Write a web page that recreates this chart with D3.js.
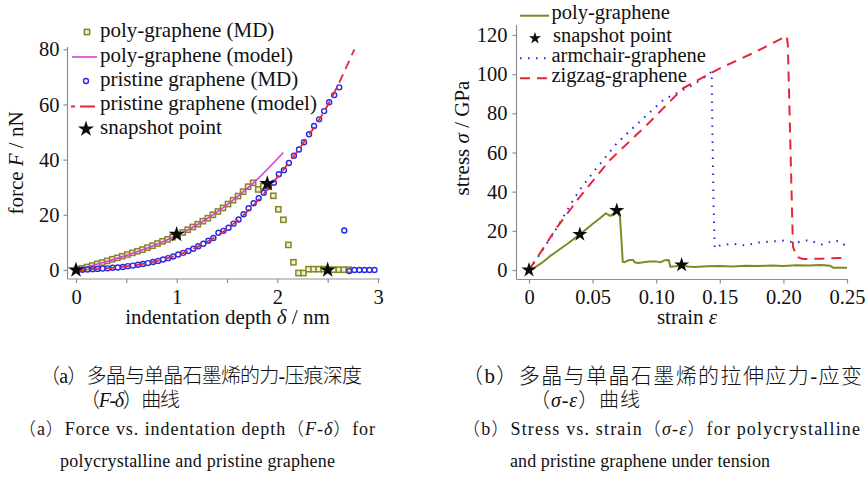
<!DOCTYPE html>
<html>
<head>
<meta charset="utf-8">
<script src="https://cdn.jsdelivr.net/npm/d3@7"></script>
<style>
  html, body { margin: 0; padding: 0; background: #fff; }
</style>
</head>
<body>
<svg id="fig" width="867" height="480"></svg>
<script>
// ---------- (a) force vs. indentation depth ----------
const polyMdDepth = [0.01,0.06,0.11,0.16,0.21,0.26,0.31,0.36,0.41,0.46,0.51,0.56,0.61,0.66,0.71,0.76,0.81,0.86,0.91,0.96,
  1.01,1.06,1.11,1.16,1.21,1.26,1.31,1.36,1.41,1.46,1.51,1.56,1.61,1.66,1.71,1.76,1.81,1.86,1.91,1.96,
  2.01,2.06,2.11,2.16,2.21,2.26,2.31,2.36,2.41,2.46,2.51,2.56,2.61,2.66,2.71];
const polyMdForce = [0.3,0.6,1.1,1.6,2.2,2.7,3.3,3.9,4.4,5.0,5.6,6.2,6.8,7.4,8.1,8.8,9.6,10.4,11.1,11.9,
  12.7,13.6,14.6,15.6,16.6,17.7,18.8,20.0,21.2,22.5,23.9,25.3,26.8,28.4,30.2,31.6,29.2,30.4,31.0,26.9,
  22.0,18.2,9.1,2.8,-1.1,-1.1,0.3,0.3,0.3,0.3,0.1,0.1,0.1,0.1,0.1];

const polyModelDepth = [0,0.25,0.5,0.75,1.0,1.25,1.5,1.75,2.06];
const polyModelForce = [0,2.5,5.3,8.5,12.5,17.4,23.6,31.1,42.6];

const pristineMdDepth = [0.015,0.065,0.115,0.165,0.215,0.265,0.315,0.365,0.415,0.465,0.515,0.565,0.615,0.665,0.715,
  0.765,0.815,0.865,0.915,0.965,1.015,1.065,1.115,1.165,1.215,1.265,1.315,1.365,1.415,1.465,
  1.515,1.565,1.615,1.665,1.715,1.765,1.815,1.865,1.915,1.965,2.015,2.065,2.115,2.165,2.215,
  2.265,2.315,2.365,2.415,2.465,2.515,2.565,2.615,2.665,2.715,2.765,2.815,2.865,2.915,2.965];
const pristineMdForce = [0.0,0.1,0.2,0.3,0.4,0.5,0.6,0.8,0.9,1.1,1.4,1.6,1.9,2.2,2.5,
  2.9,3.3,3.8,4.3,4.9,5.6,6.2,6.9,7.7,8.6,9.5,10.6,11.6,13.5,14.2,
  15.3,16.8,18.3,20.2,22.4,24.2,26.0,28.0,30.2,31.6,34.7,36.2,38.8,41.4,43.7,
  46.3,49.2,52.2,54.6,57.6,60.8,63.4,66.2,14.3,-0.4,0,0,0,0,0];

const pristineModelDepth = [0,0.25,0.5,0.75,1.0,1.25,1.5,1.75,2.0,2.25,2.5,2.765];
const pristineModelForce = [0,0.45,1.3,2.8,5.3,9.2,14.9,23.0,33.6,45.6,59.7,80];

const snapDepth = [0,1.0,1.9,2.5];
const snapForce = [0,12.9,31.3,0];

const depthTicks = [0,0.5,1,1.5,2,2.5,3];
const depthTickLabels = ["0","","1","","2","","3"];
const forceTicks = [0,20,40,60,80];

// ---------- (b) stress vs. strain ----------
const polyStrain = [0,0.005,0.01,0.016,0.022,0.03,0.04,0.05,0.056,0.0605,0.0637,0.066,0.069,0.0715,0.0727,0.0737,
  0.075,0.077,0.079,0.082,0.083,0.086,0.09,0.095,0.1,0.103,0.106,0.108,0.11,0.111,0.115,0.12,
  0.125,0.13,0.14,0.15,0.16,0.17,0.18,0.19,0.2,0.21,0.22,0.23,0.2366,0.239,0.25];
const polyStress = [0,1.5,3.6,6.8,9.6,13.3,18.2,23.5,26.6,29.0,27.6,28.6,30.3,27.2,15.0,4.2,
  3.9,4.6,5.1,5.1,4.0,3.6,3.9,4.3,4.4,3.9,4.8,5.1,5.0,1.7,1.9,2.3,
  1.8,1.5,1.9,2.1,1.8,2.2,2.0,2.3,2.1,2.4,2.3,2.6,2.2,1.2,1.2];

const armStrain = [0,0.01,0.02,0.027,0.035,0.04,0.05,0.06,0.069,0.08,0.09,0.1,0.1056,0.115,0.129,0.137,0.1436,
  0.1442,0.1452,0.146,0.15,0.16,0.17,0.18,0.19,0.2,0.21,0.22,0.23,0.24,0.245,0.25];
const armStress = [0,9.5,19.5,27.2,36.0,41.0,49.5,57.5,64.7,71.5,77.5,83.5,86.8,90.0,94.5,98.0,101.3,
  70,30,11,12.5,13.5,12.5,14,14.5,15,14,15.3,13,15,14.5,11.5];

const zigStrain = [0,0.0218,0.04,0.0637,0.0925,0.121,0.15,0.176,0.2026,0.2035,0.2075,0.2104,0.215,0.23,0.25];
const zigStress = [0,21.6,37.4,56.2,74.0,92.8,103.0,110.7,119.5,115,12,6.8,5.6,5.8,6.2];

const snapStrain = [0,0.04,0.069,0.12];
const snapStress = [0,18.2,30.4,2.6];

const strainTicks = [0,0.05,0.10,0.15,0.20,0.25];
const strainTickLabels = ["0","0.05","0.10","0.15","0.20","0.25"];
const stressTicks = [0,20,40,60,80,100,120];

// ---------- styles ----------
const SERIF = '"Liberation Serif","Times New Roman",serif';
const CAPTION = '"Liberation Serif","Noto Sans CJK SC",serif';
const C = {
  axis: "#8f8f8f",
  olive: "#85852a",
  oliveLine: "#7d8b24",
  blue: "#2a2ae6",
  red: "#e3263a",
  magenta: "#dd3ed8",
  black: "#0b0b0b"
};
const zip = (xs, ys) => xs.map((x, i) => [x, ys[i]]);
const svg = d3.select("#fig");
const star = (size) => d3.symbol().type(d3.symbolStar).size(size)();
const serifText = (sel, size) => sel.style("font-family", SERIF).style("font-size", size + "px").style("fill", "#111");

// draws a detached L-shaped frame with ticks
function frame(g, x, y, o) {
  const xa = g.append("g").attr("transform", `translate(0,${o.xAxisY})`)
    .call(d3.axisBottom(x).tickValues(o.xTicks).tickSize(4).tickPadding(6)
      .tickFormat((d, i) => o.xLabels[i]));
  const ya = g.append("g").attr("transform", `translate(${o.yAxisX},0)`)
    .call(d3.axisLeft(y).tickValues(o.yTicks).tickSize(4).tickPadding(o.yPad));
  [xa, ya].forEach(a => {
    a.select(".domain").remove();
    a.selectAll(".tick line").attr("stroke", C.axis).attr("stroke-width", 1.2);
    serifText(a.selectAll(".tick text"), 20.5);
  });
  g.append("line").attr("x1", o.yAxisX).attr("x2", o.yAxisX)
    .attr("y1", o.yTop).attr("y2", o.xAxisY).attr("stroke", C.axis).attr("stroke-width", 1.2);
  g.append("line").attr("x1", o.yAxisX).attr("x2", o.xRight)
    .attr("y1", o.xAxisY).attr("y2", o.xAxisY).attr("stroke", C.axis).attr("stroke-width", 1.2);
}

// ================= panel (a) =================
{
  const g = svg.append("g");
  const x = d3.scaleLinear().domain([0, 3]).range([76, 378]);
  const y = d3.scaleLinear().domain([0, 80]).range([270, 49.3]);
  frame(g, x, y, { xAxisY: 279, yAxisX: 67.5, yTop: 47, xRight: 380,
    xTicks: depthTicks, xLabels: depthTickLabels, yTicks: forceTicks, yPad: 4 });

  const line = d3.line().x(d => x(d[0])).y(d => y(d[1])).curve(d3.curveMonotoneX);

  g.append("g").selectAll("rect").data(zip(polyMdDepth, polyMdForce)).join("rect")
    .attr("x", d => x(d[0]) - 2.6).attr("y", d => y(d[1]) - 2.6)
    .attr("width", 5.2).attr("height", 5.2)
    .attr("fill", "#f4f2c8").attr("stroke", C.olive).attr("stroke-width", 1.5);

  g.append("path").datum(zip(polyModelDepth, polyModelForce)).attr("d", line)
    .attr("fill", "none").attr("stroke", C.magenta).attr("stroke-width", 1.6);

  g.append("g").selectAll("circle").data(zip(pristineMdDepth, pristineMdForce)).join("circle")
    .attr("cx", d => x(d[0])).attr("cy", d => y(d[1])).attr("r", 2.5)
    .attr("fill", "none").attr("stroke", C.blue).attr("stroke-width", 1.4);

  g.append("path").datum(zip(pristineModelDepth, pristineModelForce)).attr("d", line)
    .attr("fill", "none").attr("stroke", C.red).attr("stroke-width", 1.8)
    .attr("stroke-dasharray", "9,6");

  g.append("g").selectAll("path").data(zip(snapDepth, snapForce)).join("path")
    .attr("d", star(80)).attr("transform", d => `translate(${x(d[0])},${y(d[1])})`)
    .attr("fill", C.black);

  // axis titles
  g.append("text").attr("x", 227.5).attr("y", 323.5).attr("text-anchor", "middle")
    .call(serifText, 21)
    .call(t => { t.append("tspan").text("indentation depth ");
                 t.append("tspan").style("font-style", "italic").text("δ");
                 t.append("tspan").text(" / nm"); });
  g.append("text").attr("transform", "translate(22.5,163) rotate(-90)").attr("text-anchor", "middle")
    .call(serifText, 21)
    .call(t => { t.append("tspan").text("force ");
                 t.append("tspan").style("font-style", "italic").text("F");
                 t.append("tspan").text(" / nN"); });

  // legend
  const lg = g.append("g");
  const rows = [32, 57, 81, 105, 129];
  const labels = ["poly-graphene (MD)", "poly-graphene (model)", "pristine graphene (MD)",
                  "pristine graphene (model)", "snapshot point"];
  lg.append("rect").attr("x", 84.4).attr("y", rows[0] - 2.6).attr("width", 5.2).attr("height", 5.2)
    .attr("fill", "#f4f2c8").attr("stroke", C.olive).attr("stroke-width", 1.5);
  lg.append("line").attr("x1", 72).attr("x2", 97).attr("y1", rows[1]).attr("y2", rows[1])
    .attr("stroke", C.magenta).attr("stroke-width", 1.6);
  lg.append("circle").attr("cx", 86).attr("cy", rows[2]).attr("r", 2.5)
    .attr("fill", "none").attr("stroke", C.blue).attr("stroke-width", 1.4);
  lg.append("line").attr("x1", 71).attr("x2", 97).attr("y1", rows[3] + 1.5).attr("y2", rows[3] + 1.5)
    .attr("stroke", C.red).attr("stroke-width", 1.8).attr("stroke-dasharray", "4,5,15,20");
  lg.append("path").attr("d", star(80)).attr("transform", `translate(86,${rows[4]})`).attr("fill", C.black);
  lg.selectAll("text").data(labels).join("text")
    .attr("x", 100).attr("y", (d, i) => rows[i] + 4.5).call(serifText, 21).text(d => d);
}

// ================= panel (b) =================
{
  const g = svg.append("g");
  const x = d3.scaleLinear().domain([0, 0.25]).range([529, 847]);
  const y = d3.scaleLinear().domain([0, 120]).range([270, 35]);
  frame(g, x, y, { xAxisY: 279.5, yAxisX: 516.5, yTop: 25, xRight: 848,
    xTicks: strainTicks, xLabels: strainTickLabels, yTicks: stressTicks, yPad: 5 });

  const line = d3.line().x(d => x(d[0])).y(d => y(d[1]));

  g.append("path").datum(zip(polyStrain, polyStress)).attr("d", line)
    .attr("fill", "none").attr("stroke", C.oliveLine).attr("stroke-width", 2)
    .attr("stroke-linejoin", "round");
  g.append("path").datum(zip(armStrain, armStress)).attr("d", line)
    .attr("fill", "none").attr("stroke", C.blue).attr("stroke-width", 2)
    .attr("stroke-dasharray", "1.6,6.4");
  g.append("path").datum(zip(zigStrain, zigStress)).attr("d", line)
    .attr("fill", "none").attr("stroke", C.red).attr("stroke-width", 2)
    .attr("stroke-dasharray", "10,7");
  g.append("g").selectAll("path").data(zip(snapStrain, snapStress)).join("path")
    .attr("d", star(70)).attr("transform", d => `translate(${x(d[0])},${y(d[1])})`)
    .attr("fill", C.black);

  g.append("text").attr("x", 687).attr("y", 323.5).attr("text-anchor", "middle").call(serifText, 21)
    .call(t => { t.append("tspan").text("strain ");
                 t.append("tspan").style("font-style", "italic").text("ε"); });
  g.append("text").attr("transform", "translate(469,138) rotate(-90)").attr("text-anchor", "middle")
    .call(serifText, 21)
    .call(t => { t.append("tspan").text("stress ");
                 t.append("tspan").style("font-style", "italic").text("σ");
                 t.append("tspan").text(" / GPa"); });

  // legend
  const lg = g.append("g");
  const rows = [15.7, 38.3, 58.3, 78.3];
  const labels = ["poly-graphene", "snapshot point", "armchair-graphene", "zigzag-graphene"];
  lg.append("line").attr("x1", 520).attr("x2", 549).attr("y1", rows[0]).attr("y2", rows[0])
    .attr("stroke", C.oliveLine).attr("stroke-width", 2);
  lg.append("path").attr("d", star(45)).attr("transform", `translate(535,${rows[1]})`).attr("fill", C.black);
  lg.append("line").attr("x1", 520).attr("x2", 549).attr("y1", rows[2]).attr("y2", rows[2])
    .attr("stroke", C.blue).attr("stroke-width", 2).attr("stroke-dasharray", "1.6,6.4");
  lg.append("line").attr("x1", 520).attr("x2", 549).attr("y1", rows[3]).attr("y2", rows[3])
    .attr("stroke", C.red).attr("stroke-width", 2).attr("stroke-dasharray", "10,7");
  lg.selectAll("text").data(labels).join("text")
    .attr("x", (d, i) => i === 1 ? 553 : 551.5).attr("y", (d, i) => rows[i] + 3.4)
    .call(serifText, 20.5).text(d => d);
}

// ================= captions =================
function caption(x, yb, len, size, parts) {
  const t = svg.append("text").attr("x", x).attr("y", yb)
    .style("font-family", CAPTION).style("font-size", size + "px").style("font-weight", 300)
    .style("fill", "#111")
    .attr("textLength", len).attr("lengthAdjust", "spacing");
  parts.forEach(p => {
    const s = t.append("tspan").text(p[0]);
    if (p[1]) s.style("font-style", "italic");
  });
}
caption(40, 383, 322, 20, [["（a）多晶与单晶石墨烯的力-压痕深度"]]);
caption(80, 407, 100, 20, [["（"], ["F", 1], ["-"], ["δ", 1], ["）曲线"]]);
caption(18, 435, 357, 18, [["（a）Force vs. indentation depth（"], ["F", 1], ["-"], ["δ", 1], ["）for"]]);
caption(60, 467, 275, 18, [["polycrystalline and pristine graphene"]]);

caption(462, 383, 400, 21, [["（b）多晶与单晶石墨烯的拉伸应力-应变"]]);
caption(530, 407, 110, 20, [["（"], ["σ", 1], ["-"], ["ε", 1], ["）曲线"]]);
caption(462, 435, 398, 18, [["（b）Stress vs. strain（"], ["σ", 1], ["-"], ["ε", 1], ["）for polycrystalline"]]);
caption(510, 467, 260, 18, [["and pristine graphene under tension"]]);
</script>
</body>
</html>
